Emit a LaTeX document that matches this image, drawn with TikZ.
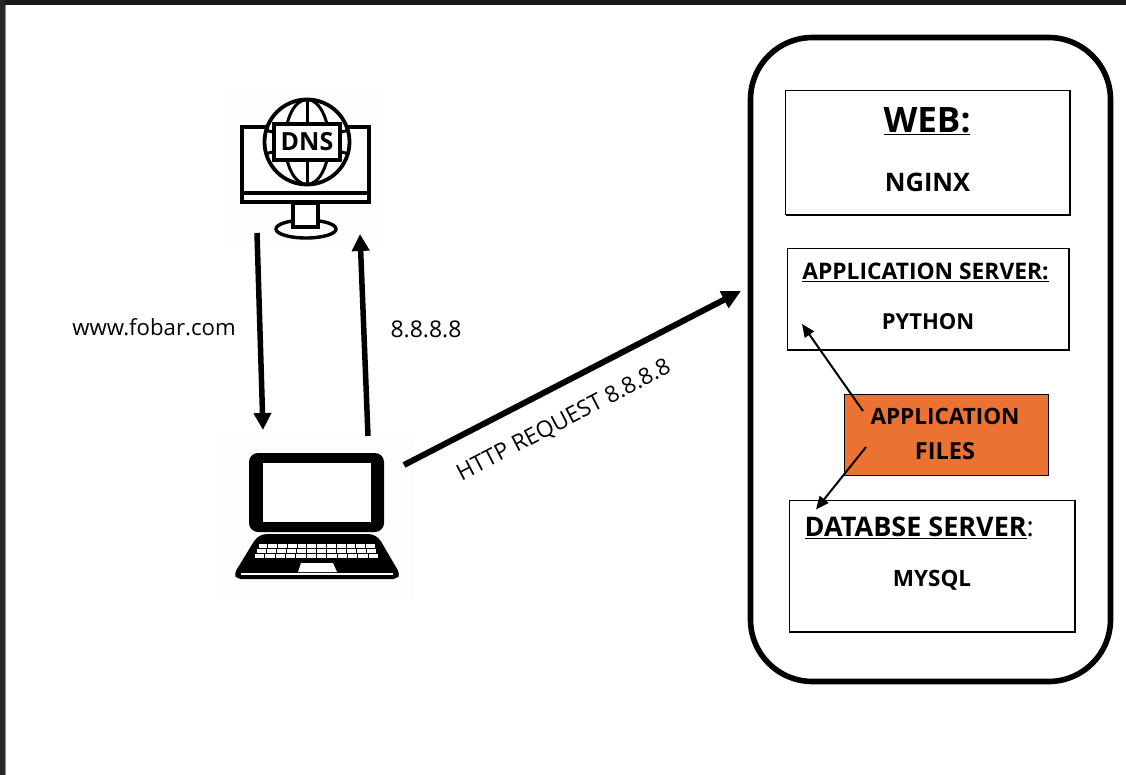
\documentclass[tikz,border=0pt]{standalone}
\usepackage{fontspec}
\setmainfont{Open Sans}
\usetikzlibrary{arrows.meta}
\definecolor{orangebox}{HTML}{EB7233}
\definecolor{iconbg}{HTML}{FDFDFD}
\tikzset{
  x=1pt,y=-1pt,
  label/.style={inner sep=0pt,font=\fontsize{#1}{#1}\selectfont},
  blabel/.style={inner sep=0pt,font=\fontsize{#1}{#1}\selectfont\bfseries},
  icon/.style={line width=3.4pt,draw=black},
  thick arrow/.style={line width=5.5pt,-{Triangle[length=17pt,width=17pt]}},
  big arrow/.style={line width=6pt,-{Triangle[length=19pt,width=18pt]}},
  thin arrow/.style={line width=2pt,-{Triangle[length=13pt,width=11pt]}},
  serverbox/.style={draw=black,line width=1pt,fill=white},
}
\begin{document}
\begin{tikzpicture}
\useasboundingbox (0,0) rectangle (1126,775);
\fill[white] (0,0) rectangle (1126,775);
\fill[black!90] (0,0) rectangle (1126,5);
\fill[black!85] (0,0) rectangle (4.5,775);
\fill[black!45] (4.5,5) rectangle (5.5,775);
% DNS icon
\fill[iconbg] (227,90) rectangle (384,247);
\draw[icon,fill=white] (306,229) ellipse (30 and 9);
\draw[icon,fill=white] (293,203) rectangle (318,227);
\draw[icon,fill=white] (242,127) rectangle (369,202);
\draw[line width=3.4pt] (242,193) -- (369,193);
\draw[icon,fill=white,line width=3.8pt] (307,142) circle (42.5);
\draw[line width=3pt] (307,142) ellipse (22 and 42.5);
\draw[line width=3pt] (307,100) -- (307,185);
\draw[line width=3pt] (266,130) .. controls (278,136) and (336,136) .. (348,130);
\draw[line width=3pt] (266,154) .. controls (278,148) and (336,148) .. (348,154);
\node[draw=black,line width=3.4pt,fill=white,minimum width=66pt,minimum height=36pt,inner sep=0pt,font=\fontsize{25}{25}\selectfont\bfseries] (dns) at (307,142) {DNS};
% Laptop icon
\fill[iconbg] (219,436) rectangle (415,600);
\fill[black,rounded corners=9pt] (249,453) rectangle (384,532);
\fill[white] (263,463) rectangle (371,522);
\fill[black,rounded corners=4pt] (263,534) -- (372,534) -- (379,538) -- (400,574) -- (397,579) -- (237,579) -- (234,574) -- (256,538) -- cycle;
\draw[white,line width=1.5pt] (241,574) -- (393,574);
\fill[white] (301,563) -- (333,563) -- (337,572) -- (298,572) -- cycle;
\foreach \r/\yt/\xl/\xr in {0/544/258.5/376,1/549/257/377,2/553.5/255/379}{
  \foreach \c in {0,...,11}{
    \pgfmathsetmacro{\w}{(\xr-\xl)/12}
    \pgfmathsetmacro{\xa}{\xl+\c*\w}
    \pgfmathsetmacro{\xb}{\xa+\w-1}
    \pgfmathsetmacro{\yb}{\yt+4}
    \fill[white] (\xa,\yt) rectangle (\xb,\yb);
  }
}
\coordinate (dnsOut) at (257,233);
\coordinate (lapIn) at (263,430);
\coordinate (lapOut) at (368,436);
\coordinate (dnsIn) at (360,234);
\coordinate (lapHttp) at (404,465);
\coordinate (srvIn) at (741,291);
\draw[thick arrow] (dnsOut) -- (lapIn);
\draw[thick arrow] (lapOut) -- (dnsIn);
\draw[big arrow] (lapHttp) -- (srvIn);
\node[label=22.2] (q) at (154,327.5) {www.fobar.com};
\node[label=23] (ip) at (426,329) {8.8.8.8};
\node[label=22.8,rotate=27.5] (http) at (564,421) {HTTP REQUEST 8.8.8.8};
% Server
\draw[line width=5.6pt,rounded corners=62pt] (750.5,37.5) rectangle (1110.5,681.5);
\draw[serverbox] (785.5,91) rectangle (1070,215);
\draw[line width=1.8pt] (1070,91) -- (1070,215.5) -- (785.5,215.5);
\draw[serverbox] (787.5,248.5) rectangle (1069,350);
\draw[line width=1.8pt] (1069,248.5) -- (1069,350) -- (787.5,350);
\draw[serverbox] (789.5,500.5) rectangle (1075,632);
\draw[line width=1.8pt] (1075,500.5) -- (1075,632) -- (789.5,632);
\node[blabel=35] (web) at (927,121) {\underline{WEB:}};
\node[blabel=25.5] (nginx) at (927.5,182.5) {NGINX};
\node[blabel=22.8] (app) at (925.5,272.5) {\underline{APPLICATION SERVER:}};
\node[blabel=22] (py) at (928,322) {PYTHON};
\node[draw=black,line width=0.8pt,fill=orangebox,minimum width=204pt,minimum height=81pt,inner sep=0pt] (files) at (946,434.5) {};
\node[blabel=22.5] (f1) at (945,416.5) {APPLICATION};
\node[blabel=23.5] (f2) at (945,451) {FILES};
\node[blabel=27,anchor=west] (db) at (804.5,528) {\underline{DATABSE SERVER}{\mdseries:}};
\node[blabel=22.5] (my) at (932,580.5) {MYSQL};
\coordinate (fa) at (863,411);
\coordinate (pyIn) at (802,324);
\coordinate (fb) at (866,447);
\coordinate (dbIn) at (816,509.5);
\draw[thin arrow] (fa) -- (pyIn);
\draw[thin arrow] (fb) -- (dbIn);
\end{tikzpicture}
\end{document}
